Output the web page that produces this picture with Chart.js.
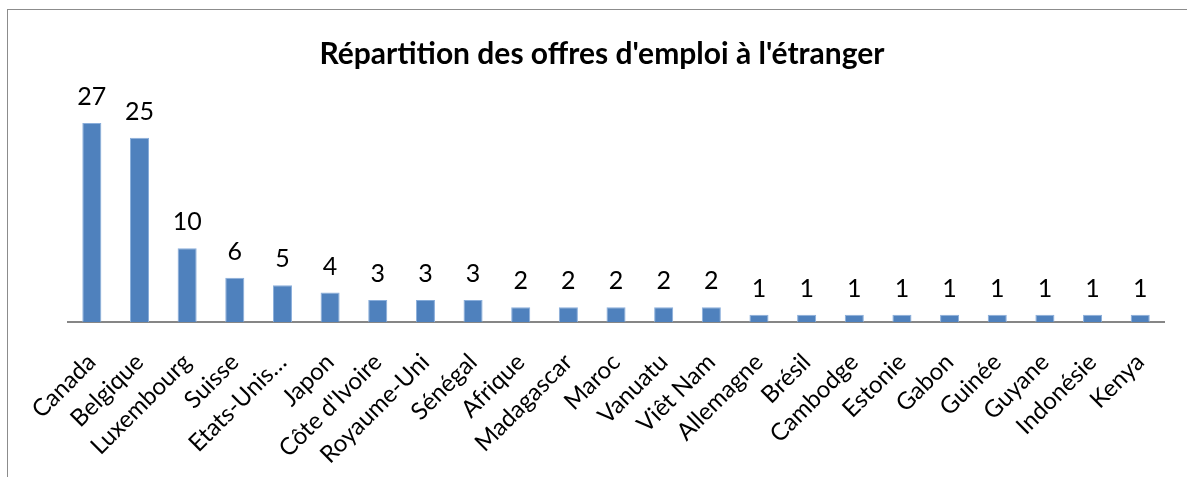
<!DOCTYPE html>
<html>
<head>
<meta charset="utf-8">
<script src="https://cdn.jsdelivr.net/npm/chart.js@4"></script>
<style>
  html, body { margin: 0; padding: 0; background: #fff; overflow: hidden; }
  .frame { position: absolute; left: 7px; top: 9px; width: 1400px; height: 700px; border: 1px solid #8c8c8c; }
  .wrap { position: absolute; left: 0; top: 0; width: 1187px; height: 477px; }
</style>
</head>
<body>
<div class="frame"></div>
<div class="wrap"><canvas id="myChart" width="1187" height="477"></canvas></div>
<script>
const countries = [
  "Canada", "Belgique", "Luxembourg", "Suisse", "Etats-Unis…", "Japon",
  "Côte d'Ivoire", "Royaume-Uni", "Sénégal", "Afrique", "Madagascar", "Maroc",
  "Vanuatu", "Viêt Nam", "Allemagne", "Brésil", "Cambodge", "Estonie",
  "Gabon", "Guinée", "Guyane", "Indonésie", "Kenya"
];
const offres = [27, 25, 10, 6, 5, 4, 3, 3, 3, 2, 2, 2, 2, 2, 1, 1, 1, 1, 1, 1, 1, 1, 1];
const chartTitle = "Répartition des offres d'emploi à l'étranger";

const fontFamily = "Lato, 'Open Sans', sans-serif";

// draws the value above each bar
const valueLabels = {
  id: "valueLabels",
  afterDatasetsDraw(chart) {
    const ctx = chart.ctx;
    const meta = chart.getDatasetMeta(0);
    ctx.save();
    ctx.fillStyle = "#000";
    ctx.font = "25px " + fontFamily;
    ctx.textAlign = "center";
    ctx.textBaseline = "alphabetic";
    meta.data.forEach((bar, i) => {
      ctx.fillText(String(chart.data.datasets[0].data[i]), bar.x, bar.y - 18);
    });
    ctx.restore();
  }
};

const ctx = document.getElementById("myChart");
new Chart(ctx, {
  type: "bar",
  data: {
    labels: countries,
    datasets: [
      {
        label: "Offres",
        data: offres,
        backgroundColor: "#4F81BD",
        borderColor: "#8AAEDB",
        borderWidth: 1,
        barPercentage: 0.4,
        categoryPercentage: 1
      }
    ]
  },
  options: {
    responsive: false,
    animation: false,
    layout: { padding: { left: 36, right: 19, top: 10, bottom: 0 } },
    plugins: {
      legend: { display: false },
      tooltip: { enabled: false },
      title: {
        display: true,
        text: chartTitle,
        color: "#000",
        font: { family: fontFamily, size: 30, weight: "bold" },
        padding: { top: 26, bottom: 29 }
      }
    },
    scales: {
      x: {
        grid: { display: false, drawTicks: false },
        border: { display: true, color: "#868686", width: 2 },
        ticks: {
          color: "#000",
          font: { family: fontFamily, size: 24 },
          minRotation: 45,
          maxRotation: 45,
          autoSkip: false,
          padding: 26
        },
        afterFit(scale) { scale.height = 155; }
      },
      y: {
        min: 0,
        max: 30,
        grid: { display: false, drawTicks: false },
        border: { display: false },
        ticks: { display: false },
        afterFit(scale) { scale.width = 32; }
      }
    }
  },
  plugins: [valueLabels]
});
</script>
</body>
</html>
